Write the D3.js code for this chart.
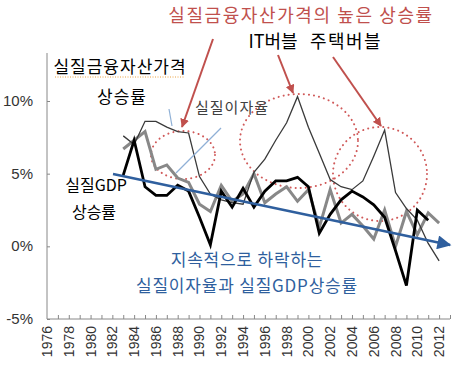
<!DOCTYPE html>
<html><head><meta charset="utf-8">
<script src="https://cdn.jsdelivr.net/npm/d3@7"></script>
<style>
body{margin:0;background:#fff;}
svg{display:block;}
text{font-family:"Noto Sans CJK KR","Noto Sans",sans-serif;}
</style></head>
<body><svg id="c" width="452" height="371"></svg>
<script>
// ---- data ----
const axisYears = d3.range(1976, 2014);
const labelYears = d3.range(1976, 2013, 2);
const yTicks = [-5, 0, 5, 10];
const gdpYears = d3.range(1983, 2012);
const gdp = [4.9, 7.3, 4.1, 3.5, 3.5, 4.2, 3.8, 2.0, 0.1, 3.8, 2.7, 4.0, 2.7, 3.8, 4.5, 4.5, 4.75, 4.1, 0.9, 2.2, 3.2, 3.8, 3.4, 2.85, 2.0, -0.3, -2.7, 2.5, 1.8];
const rateYears = d3.range(1983, 2013);
const rate = [6.7, 7.3, 7.9, 5.3, 5.6, 4.7, 4.4, 2.9, 2.4, 4.2, 3.1, 3.6, 5.0, 3.0, 3.6, 4.1, 3.1, 3.9, 1.3, 3.9, 1.6, 2.2, 1.4, 0.5, 2.5, 0.0, 2.4, 0.8, 2.3, 1.6];
const assetYears = d3.range(1983, 2013);
const asset = [7.6, 7.0, 8.6, 8.6, 8.2, 7.9, 7.8, 4.8, 3.6, 3.2, 3.0, 2.9, 5.1, 6.0, 7.3, 8.5, 10.3, 8.2, 6.4, 4.6, 4.1, 3.9, 4.5, 6.2, 8.0, 3.7, 2.6, 1.8, 0.2, -1.0];

const svg = d3.select("#c");
const x = d3.scaleLinear().domain([1976, 2013]).range([47, 450]);
const y = d3.scaleLinear().domain([-5, 10]).range([319, 101]);

// defs: arrowheads
const defs = svg.append("defs");
function marker(id, color, w, h){
  defs.append("marker").attr("id", id).attr("viewBox","0 0 10 10").attr("refX",9).attr("refY",5)
    .attr("markerWidth", w).attr("markerHeight", h).attr("orient","auto").attr("markerUnits","userSpaceOnUse")
    .append("path").attr("d","M0,0 L10,5 L0,10 z").attr("fill", color);
}
marker("ar","#c0504d",9,9);
marker("ab","#2f5f9e",16,14);

// axes
const yAxis = d3.axisRight(y).tickValues(yTicks).tickSize(3).tickFormat("");
const gy = svg.append("g").attr("transform","translate(47,0)").call(yAxis);
gy.select(".domain").remove();
gy.selectAll("line").attr("stroke","#888");
svg.append("line").attr("x1",47).attr("x2",47).attr("y1",53).attr("y2",319).attr("stroke","#888").attr("stroke-width",1);
svg.selectAll(".ylab").data(yTicks).enter().append("text")
  .attr("x",33).attr("y",d=>y(d)+5).attr("text-anchor","end")
  .style("font-family","'Liberation Sans',Arial,sans-serif").style("font-size","15px").attr("fill","#333")
  .text(d=>d+"%");

const xAxis = d3.axisTop(x).tickValues(axisYears.slice(1)).tickSize(4).tickFormat("");
const gx = svg.append("g").attr("transform","translate(0,319)").call(xAxis);
gx.select(".domain").remove();
gx.selectAll("line").attr("stroke","#888");
svg.append("line").attr("x1",47).attr("x2",450).attr("y1",319).attr("y2",319).attr("stroke","#888");
svg.selectAll(".xlab").data(labelYears).enter().append("text")
  .attr("transform",d=>`translate(${x(d)+5},326) rotate(-90)`).attr("text-anchor","end")
  .style("font-family","'Liberation Sans',Arial,sans-serif").style("font-size","14px").attr("fill","#333")
  .text(d=>d);

// red dotted circles
const circles = [[183,155,32,24],[299,141,59,47],[380,174,47,47]];
svg.selectAll(".circ").data(circles).enter().append("ellipse")
  .attr("cx",d=>d[0]).attr("cy",d=>d[1]).attr("rx",d=>d[2]).attr("ry",d=>d[3])
  .attr("fill","none").attr("stroke","#d05a5a").attr("stroke-width",2)
  .attr("stroke-dasharray","0.1 5").attr("stroke-linecap","round");

// lines
const line = (yrs)=>d3.line().x((d,i)=>x(yrs[i])).y(d=>y(d));
svg.append("path").attr("d",line(rateYears)(rate)).attr("fill","none").attr("stroke","#888").attr("stroke-width",3).attr("stroke-linejoin","miter");
svg.append("path").attr("d",line(assetYears)(asset)).attr("fill","none").attr("stroke","#3a3a3a").attr("stroke-width",1.3);
svg.append("path").attr("d",line(gdpYears)(gdp)).attr("fill","none").attr("stroke","#000").attr("stroke-width",2.8);

// pointer lines (light blue)
svg.append("line").attr("x1",169).attr("y1",109).attr("x2",172).attr("y2",126).attr("stroke","#8fb0d6").attr("stroke-width",1.2);
svg.append("line").attr("x1",221).attr("y1",128).attr("x2",176).attr("y2",173).attr("stroke","#8fb0d6").attr("stroke-width",1.2);

// big blue arrow
svg.append("line").attr("x1",113).attr("y1",174).attr("x2",450).attr("y2",245)
  .attr("stroke","#2f5f9e").attr("stroke-width",2.5).attr("marker-end","url(#ab)");

// red arrows
const redArrows = [[213,39,182,127],[278,55,293,93],[333,57,381,126]];
svg.selectAll(".ra").data(redArrows).enter().append("line")
  .attr("x1",d=>d[0]).attr("y1",d=>d[1]).attr("x2",d=>d[2]).attr("y2",d=>d[3])
  .attr("stroke","#c0504d").attr("stroke-width",2).attr("marker-end","url(#ar)");

// texts
function txt(s, xx, yy, color, size, ls){
  return svg.append("text").attr("x",xx).attr("y",yy).attr("fill",color)
    .attr("text-anchor","middle").style("font-size",size+"px")
    .style("letter-spacing",(ls||0)+"px").text(s);
}
txt("실질금융자산가격의  높은  상승률", 301, 22, "#c0504d", 18, 1.6);
txt("IT버블", 273, 48, "#000", 18, 0);
txt("주택버블", 346, 48, "#000", 18, 1.5);
txt("실질금융자산가격", 120, 73, "#000", 17, 1);
svg.append("line").attr("x1",55).attr("x2",184).attr("y1",77).attr("y2",77).attr("stroke","#e8a040").attr("stroke-width",1).attr("stroke-dasharray","1 1.5");
txt("상승률", 122, 103, "#000", 17, 1);
txt("실질이자율", 232, 113, "#404040", 15, 1);
txt("실질GDP", 96, 191, "#000", 16, 0);
txt("상승률", 94, 218, "#000", 16, 0);
txt("지속적으로  하락하는", 247, 266, "#2f5f9e", 17, 0.8);
txt("실질이자율과  실질GDP상승률", 247, 292, "#2f5f9e", 17, 0.8);
</script></body></html>
